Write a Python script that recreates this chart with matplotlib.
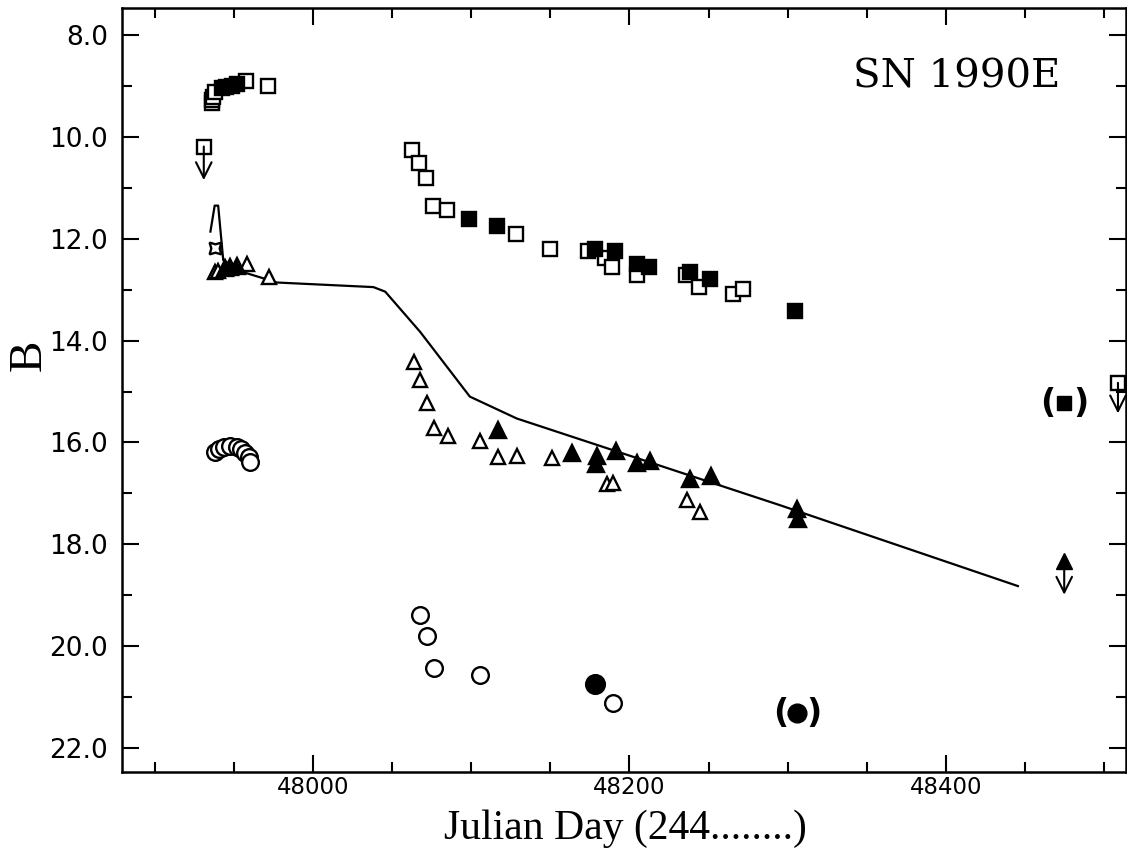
import numpy as np
import matplotlib.pyplot as plt
from matplotlib.ticker import MultipleLocator, FormatStrFormatter

# open squares
sq_open_jd = [47936, 47936, 47936.6, 47937.5, 47957.7, 47971.4,
              48062.7, 48067, 48071.2, 48076, 48084.5, 48128.2, 48149.7, 48174,
              48184.5, 48188.7, 48204.5, 48236, 48244, 48265.5, 48271.8]
sq_open_b = [9.34, 9.28, 9.21, 9.11, 8.90, 9.00,
             10.26, 10.51, 10.80, 11.36, 11.44, 11.90, 12.20, 12.24,
             12.38, 12.56, 12.71, 12.71, 12.94, 13.09, 12.99]
# filled squares
sq_fill_jd = [47942.3, 47945, 47948.6, 47951.8,
              48098.7, 48116, 48178, 48190.8, 48205, 48212.5, 48238, 48250.8, 48305]
sq_fill_b = [9.05, 9.03, 9.00, 8.96,
             11.61, 11.75, 12.21, 12.24, 12.50, 12.55, 12.65, 12.79, 13.41]
# open triangles
tri_open_jd = [47938, 47940, 47958, 47972,
               48063.4, 48067.6, 48071.8, 48076.6, 48085, 48105.5, 48116.7, 48128.7,
               48150.8, 48185.5, 48189.7, 48236.5, 48244.5]
tri_open_b = [12.65, 12.63, 12.50, 12.75,
              14.43, 14.77, 15.23, 15.72, 15.87, 15.97, 16.28, 16.26,
              16.30, 16.82, 16.79, 17.13, 17.36]
# filled triangles
tri_fill_jd = [47944.4, 47947.6, 47952,
               48117, 48163.4, 48179.2, 48178.8, 48191.4, 48204.5, 48212.9,
               48238, 48251.4, 48306, 48306.6]
tri_fill_b = [12.58, 12.56, 12.54,
              15.76, 16.21, 16.27, 16.42, 16.16, 16.41, 16.36,
              16.72, 16.65, 17.31, 17.50]
# open circles
circ_open_jd = [47938, 47940.6, 47943.8, 47947.6, 47951.4, 47954.5, 47957, 47959, 47960.2,
                48067.6, 48071.8, 48076.6, 48105.5, 48189.7]
circ_open_b = [16.19, 16.13, 16.09, 16.07, 16.09, 16.13, 16.21, 16.29, 16.38,
               19.39, 19.80, 20.42, 20.57, 21.11]
# filled circles
circ_fill_jd = [48178]
circ_fill_b = [20.75]
# uncertain points (in parentheses)
paren_sq_jd, paren_sq_b = 48475, 15.23
paren_circ_jd, paren_circ_b = 48306, 21.32
# star
star_jd, star_b = 47937.6, 12.19
# upper limits (marker, arrow end)
lim_sq_jd = [47930.7, 48509]
lim_sq_b = [10.19, 14.83]
lim_sq_end = [10.85, 15.43]
lim_tri_jd, lim_tri_b, lim_tri_end = 48475, 18.33, 18.99
# model light curve
model_jd = [47934.9, 47937.6, 47939.8, 47943, 47955, 47977, 48038, 48045.5,
            48067.6, 48099, 48128.7, 48295, 48445.7]
model_b = [11.86, 11.35, 11.35, 12.42, 12.65, 12.86, 12.95, 13.04,
           13.83, 15.10, 15.53, 17.23, 18.82]

fig = plt.figure(figsize=(11.27, 8.5), dpi=100)
ax = fig.add_axes([0.1083, 0.0918, 0.8907, 0.8988])

ax.plot(model_jd, model_b, 'k-', lw=1.6)
mew = 1.7
ax.plot(sq_open_jd, sq_open_b, 's', ms=9.5, mfc='white', mec='k', mew=mew)
ax.plot(sq_fill_jd, sq_fill_b, 's', ms=10.5, mfc='k', mec='k', mew=mew)
ax.plot(tri_open_jd, tri_open_b, '^', ms=10.5, mfc='white', mec='k', mew=mew)
ax.plot(tri_fill_jd, tri_fill_b, '^', ms=11.5, mfc='k', mec='k', mew=mew)
ax.plot(circ_open_jd, circ_open_b, 'o', ms=12, mfc='white', mec='k', mew=mew)
ax.plot(circ_fill_jd, circ_fill_b, 'o', ms=13.5, mfc='k', mec='k', mew=mew)
ax.plot([star_jd], [star_b], marker=(4, 1, 45), ms=12, mfc='white', mec='k', mew=mew)

# parenthesised points
ax.plot([paren_sq_jd], [paren_sq_b], 's', ms=10.5, mfc='k', mec='k')
ax.plot([paren_circ_jd], [paren_circ_b], 'o', ms=13.5, mfc='k', mec='k')
for px, py in [(paren_sq_jd, paren_sq_b), (paren_circ_jd, paren_circ_b)]:
    ax.annotate('(', (px, py), xytext=(-12, 0), textcoords='offset points',
                ha='center', va='center', fontsize=24, fontweight='bold')
    ax.annotate(')', (px, py), xytext=(12, 0), textcoords='offset points',
                ha='center', va='center', fontsize=24, fontweight='bold')

# upper limits
ax.plot(lim_sq_jd, lim_sq_b, 's', ms=9.5, mfc='white', mec='k', mew=mew, clip_on=False)
for x, y0, y1 in zip(lim_sq_jd, lim_sq_b, lim_sq_end):
    ax.annotate('', xy=(x, y1), xytext=(x, y0), annotation_clip=False,
                arrowprops=dict(arrowstyle='->', lw=1.5, mutation_scale=28,
                                shrinkA=0, shrinkB=0))
ax.plot([lim_tri_jd], [lim_tri_b], '^', ms=11.5, mfc='k', mec='k')
ax.annotate('', xy=(lim_tri_jd, lim_tri_end), xytext=(lim_tri_jd, lim_tri_b),
            arrowprops=dict(arrowstyle='->', lw=1.5, mutation_scale=28,
                            shrinkA=0, shrinkB=0))

ax.text(0.831, 0.91, 'SN 1990E', transform=ax.transAxes, ha='center', va='center',
        fontsize=29, family='DejaVu Serif')

ax.set_xlim(47879, 48514)
ax.set_ylim(22.47, 7.47)
ax.xaxis.set_major_locator(MultipleLocator(200))
ax.xaxis.set_minor_locator(MultipleLocator(50))
ax.yaxis.set_major_locator(MultipleLocator(2))
ax.yaxis.set_minor_locator(MultipleLocator(1))
ax.yaxis.set_major_formatter(FormatStrFormatter('%.1f'))
ax.tick_params(which='both', direction='in', top=True, right=True, width=1.5)
ax.tick_params(which='major', length=12)
ax.tick_params(which='minor', length=7)
ax.tick_params(axis='y', labelsize=19, pad=10)
ax.tick_params(axis='x', labelsize=16.5, pad=3)
for s in ax.spines.values():
    s.set_linewidth(1.8)

fig.text(0.555, 0.002, 'Julian Day (244........)', ha='center', va='bottom',
         fontsize=30, family='Liberation Serif')
fig.text(0.026, 0.582, 'B', ha='center', va='center', rotation=90,
         fontsize=34, family='Liberation Serif')

fig.savefig('out.png', dpi=100)
